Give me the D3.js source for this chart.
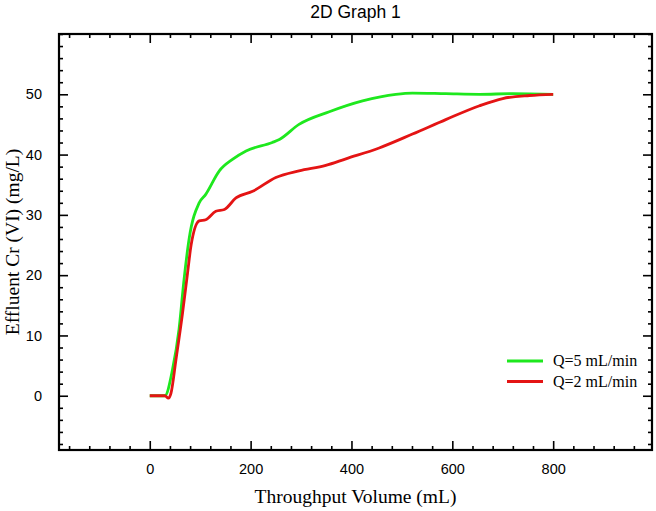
<!DOCTYPE html>
<html><head><meta charset="utf-8">
<script src="https://cdn.jsdelivr.net/npm/d3@7"></script>
<style>body{margin:0;background:#fff}</style>
</head><body>
<svg id="c" width="656" height="511"></svg>
<script>
const title = "2D Graph 1";
const xLabel = "Throughput Volume (mL)";
const yLabel = "Effluent Cr (VI) (mg/L)";
const xMajorTicks = [0, 200, 400, 600, 800];
const yMajorTicks = [0, 10, 20, 30, 40, 50];
const seriesNames = ["Q=5 mL/min", "Q=2 mL/min"];
const seriesColors = ["#1ee81e", "#e41414"];

const greenX = [0, 30, 45, 58, 68, 78, 98, 111, 138, 164, 191, 243, 257, 296, 356, 422, 488, 521, 587, 654, 720, 800];
const greenY = [0, 0, 4.3, 11, 19.3, 26, 32, 33.4, 37.3, 39.2, 40.6, 42, 42.5, 45, 47.1, 48.9, 50, 50.2, 50.1, 50, 50.1, 50];
const redX = [0, 30, 37, 42, 52, 65, 75, 82, 98, 111, 131, 148, 171, 204, 250, 296, 349, 389, 455, 521, 587, 654, 700, 753, 800];
const redY = [0, 0, -0.4, 0.4, 6, 13.7, 20.4, 25, 29, 29.2, 30.6, 30.9, 32.8, 33.9, 36.2, 37.3, 38.2, 39.3, 41.1, 43.4, 45.8, 48.1, 49.3, 49.8, 50];

const L = 59, R = 652, T = 34, B = 450;
const svg = d3.select("#c");
const x = d3.scaleLinear().domain([-180, 996]).range([L, R]);
const y = d3.scaleLinear().domain([-9, 60]).range([B, T]);

const xMinor = d3.range(-160, 1000, 40).filter(v => !xMajorTicks.includes(v));
const yMinor = d3.range(-8, 61, 2).filter(v => !yMajorTicks.includes(v));

function axisG(axis, tx, ty) {
  const g = svg.append("g").attr("transform", `translate(${tx},${ty})`).call(axis);
  g.select(".domain").remove();
  g.selectAll("line").attr("stroke", "#000").attr("stroke-width", 1.6);
  return g;
}
// bottom
const gb = axisG(d3.axisBottom(x).tickValues(xMajorTicks).tickSize(-9).tickPadding(14).tickFormat(d3.format("d")), 0, B);
gb.selectAll("text").attr("font-family", "Liberation Sans, Arial, sans-serif").attr("font-size", 14.5).attr("fill", "#000");
axisG(d3.axisBottom(x).tickValues(xMinor).tickSize(-4).tickFormat(""), 0, B);
// top
axisG(d3.axisTop(x).tickValues(xMajorTicks).tickSize(-9).tickFormat(""), 0, T);
axisG(d3.axisTop(x).tickValues(xMinor).tickSize(-4).tickFormat(""), 0, T);
// left
const gl = axisG(d3.axisLeft(y).tickValues(yMajorTicks).tickSize(-9).tickPadding(17).tickFormat(d3.format("d")), L, 0);
gl.selectAll("text").attr("font-family", "Liberation Sans, Arial, sans-serif").attr("font-size", 14.5).attr("fill", "#000");
axisG(d3.axisLeft(y).tickValues(yMinor).tickSize(-4).tickFormat(""), L, 0);
// right
axisG(d3.axisRight(y).tickValues(yMajorTicks).tickSize(-9).tickFormat(""), R, 0);
axisG(d3.axisRight(y).tickValues(yMinor).tickSize(-4).tickFormat(""), R, 0);

svg.append("rect").attr("x", L).attr("y", T).attr("width", R - L).attr("height", B - T)
  .attr("fill", "none").attr("stroke", "#000").attr("stroke-width", 2.2);

const line = d3.line().x(d => x(d[0])).y(d => y(d[1])).curve(d3.curveMonotoneX);
const series = [d3.zip(greenX, greenY), d3.zip(redX, redY)];
series.forEach((s, i) => {
  svg.append("path").datum(s).attr("d", line).attr("fill", "none")
    .attr("stroke", seriesColors[i]).attr("stroke-width", 2.8).attr("stroke-linejoin", "round");
});

// legend
seriesNames.forEach((n, i) => {
  const ly = 361 + i * 20.5;
  svg.append("line").attr("x1", 507).attr("x2", 543).attr("y1", ly).attr("y2", ly)
    .attr("stroke", seriesColors[i]).attr("stroke-width", 2.8);
  svg.append("text").attr("x", 553).attr("y", ly + 5).text(n)
    .attr("font-family", "Liberation Serif, Times New Roman, serif").attr("font-size", 16).attr("fill", "#000");
});

svg.append("text").attr("x", (L + R) / 2).attr("y", 18).attr("text-anchor", "middle").text(title)
  .attr("font-family", "Liberation Sans, Arial, sans-serif").attr("font-size", 17.5).attr("fill", "#000");
svg.append("text").attr("x", (L + R) / 2).attr("y", 503).attr("text-anchor", "middle").text(xLabel)
  .attr("font-family", "Liberation Serif, Times New Roman, serif").attr("font-size", 19.5).attr("fill", "#000");
svg.append("text").attr("transform", `translate(12,${(T + B) / 2}) rotate(-90)`).attr("text-anchor", "middle")
  .attr("dy", "0.35em").text(yLabel)
  .attr("font-family", "Liberation Serif, Times New Roman, serif").attr("font-size", 19.5).attr("fill", "#000");
</script>
</body></html>
